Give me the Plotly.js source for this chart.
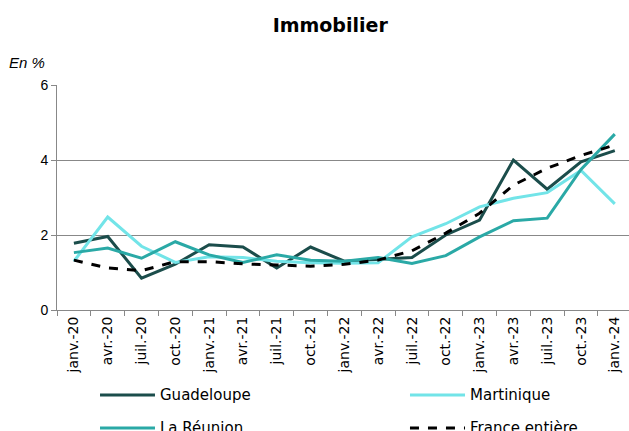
<!DOCTYPE html>
<html>
<head>
<meta charset="utf-8">
<script src="https://cdn.plot.ly/plotly-3.0.1.min.js"></script>
<style>html,body{margin:0;padding:0;background:#fff;}#chart{width:629px;height:431px;}</style>
</head>
<body>
<div id="chart"></div>
<script>
const categories = ["janv.-20","avr.-20","juil.-20","oct.-20","janv.-21","avr.-21","juil.-21","oct.-21","janv.-22","avr.-22","juil.-22","oct.-22","janv.-23","avr.-23","juil.-23","oct.-23","janv.-24"];
const guadeloupe = [1.78,1.96,0.85,1.22,1.74,1.68,1.12,1.68,1.30,1.36,1.40,2.00,2.40,4.00,3.22,3.95,4.25];
const martinique = [1.30,2.48,1.70,1.27,1.42,1.40,1.30,1.26,1.25,1.26,1.95,2.30,2.75,2.98,3.13,3.72,2.83];
const reunion    = [1.53,1.65,1.38,1.82,1.47,1.27,1.47,1.33,1.30,1.40,1.24,1.45,1.95,2.38,2.45,3.75,4.69];
const france     = [1.33,1.12,1.05,1.29,1.29,1.23,1.20,1.17,1.22,1.33,1.58,2.05,2.58,3.33,3.78,4.12,4.40];

const seriesNames = ["Guadeloupe","Martinique","La Réunion","France entière"];
const seriesData = [guadeloupe, martinique, reunion, france];
const seriesLines = [
  {color:"#1b4d4b", width:3},
  {color:"#72e4e8", width:3},
  {color:"#2aa9a6", width:3},
  {color:"#000000", width:3, dash:"dash"}
];

const traces = seriesNames.map((n,i)=>({name:n, x:categories, y:seriesData[i], type:"scatter", mode:"lines", line:seriesLines[i], showlegend:false}));

// Manual legend (two columns, two rows), positioned in paper coordinates
const legendPos = [
  {x0:0.0752, x1:0.1713, y:-0.378},
  {x0:0.6171, x1:0.7133, y:-0.378},
  {x0:0.0752, x1:0.1713, y:-0.524},
  {x0:0.6171, x1:0.7133, y:-0.524}
];
const shapes = legendPos.map((p,i)=>({type:"line", xref:"paper", yref:"paper", x0:p.x0, x1:p.x1, y0:p.y, y1:p.y,
  line:{color:seriesLines[i].color, width:3, dash:seriesLines[i].dash || "solid"}}));
const legendAnn = legendPos.map((p,i)=>({text:seriesNames[i], xref:"paper", yref:"paper", x:p.x1+0.006, y:p.y, xanchor:"left", yanchor:"middle",
  showarrow:false, font:{family:"DejaVu Sans", size:15, color:"#000"}}));

const layout = {
  width:629, height:431,
  margin:{l:57, r:0, t:85, b:121},
  paper_bgcolor:"#fff", plot_bgcolor:"#fff",
  showlegend:false,
  title:{text:"<b>Immobilier</b>", x:0.525, xanchor:"center", y:0.942, yanchor:"middle", font:{family:"DejaVu Sans", size:19, color:"#000"}},
  xaxis:{type:"category", range:[-0.5,16.42], tickangle:-90, tickson:"boundaries", ticks:"outside", ticklen:5, tickcolor:"#888",
         showline:true, linecolor:"#888", linewidth:1, showgrid:false, tickfont:{family:"DejaVu Sans", size:14, color:"#000"}, fixedrange:true},
  yaxis:{range:[0,6], dtick:2, ticks:"outside", ticklen:5, tickcolor:"#888", showline:true, linecolor:"#888", linewidth:1,
         showgrid:true, gridcolor:"#888", gridwidth:1, zeroline:false, tickfont:{family:"Liberation Sans", size:14, color:"#000"}, fixedrange:true},
  shapes:shapes,
  annotations:[{text:"<i>En %</i>", xref:"paper", yref:"paper", x:-0.087, y:1.1, xanchor:"left", yanchor:"middle", showarrow:false,
                font:{family:"Liberation Sans", size:15, color:"#000"}}].concat(legendAnn)
};
Plotly.newPlot("chart", traces, layout, {displayModeBar:false, staticPlot:true});
</script>
</body>
</html>
